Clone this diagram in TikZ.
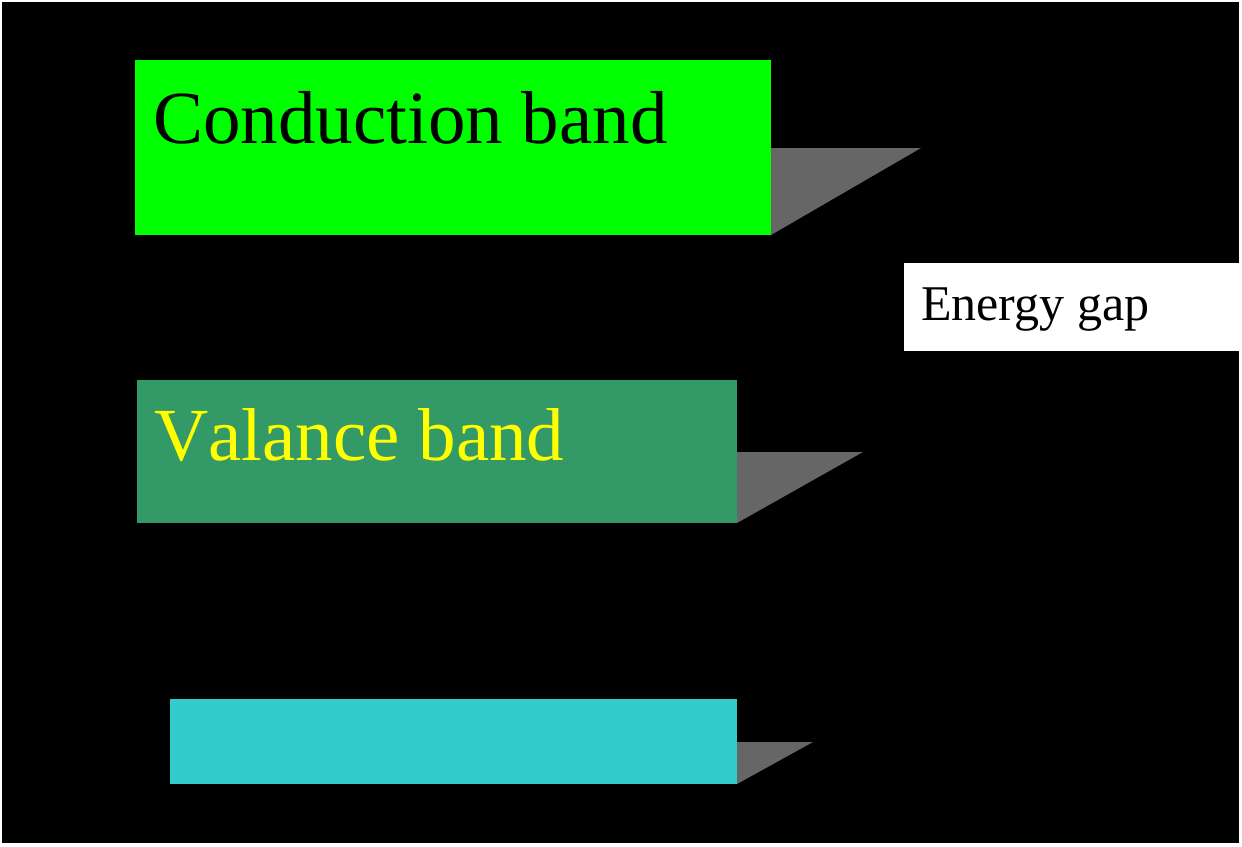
\documentclass[tikz,border=0pt]{standalone}
\usepackage{fontspec}
\setmainfont{Liberation Serif}
\usepackage{xcolor}
\usepackage{tikz}
\definecolor{condgreen}{RGB}{0,255,0}
\definecolor{valgreen}{RGB}{51,153,102}
\definecolor{lowcyan}{RGB}{51,204,204}
\definecolor{bandyellow}{RGB}{255,255,0}
\definecolor{shadowgray}{RGB}{102,102,102}

\begin{document}
\begin{tikzpicture}[x=1pt,y=-1pt]
\useasboundingbox (0,0) rectangle (1242,846);
\fill[white] (0,0) rectangle (1242,846);
\fill[black] (2,2) rectangle (1239,843);
% bands
\fill[condgreen] (135,60) rectangle (771,235);
\fill[shadowgray] (771,148) -- (921,148) -- (771,235) -- cycle;
\fill[valgreen] (137,380) rectangle (737,523);
\fill[shadowgray] (737,452) -- (863,452) -- (737,523) -- cycle;
\fill[lowcyan] (170,699) rectangle (737,784);
\fill[shadowgray] (737,742) -- (813,742) -- (737,784) -- cycle;
% gap label
\fill[white] (904,263) rectangle (1242,351);
\node[anchor=base west,inner sep=0pt,font=\fontsize{75}{80}\selectfont] (cond) at (153,143) {Conduction band};
\node[anchor=base west,inner sep=0pt,text=bandyellow,font=\fontsize{75}{80}\selectfont\addfontfeature{Kerning=Off}] (val) at (154,460) {Valance band};
\node[anchor=base west,inner sep=0pt,font=\fontsize{50}{55}\selectfont] (gap) at (921,320) {Energy gap};
\end{tikzpicture}
\end{document}
